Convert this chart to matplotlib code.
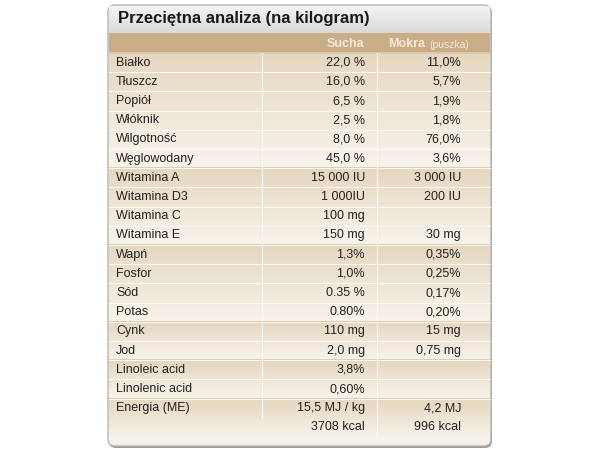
import numpy as np
import matplotlib.pyplot as plt
from matplotlib.patches import FancyBboxPatch, Rectangle
from matplotlib.colors import LinearSegmentedColormap

plt.rcParams['font.family'] = ['Liberation Sans', 'DejaVu Sans']

title = "Przeciętna analiza (na kilogram)"
nazwy = ["Białko", "Tłuszcz", "Popiół", "Włóknik", "Wilgotność", "Węglowodany",
         "Witamina A", "Witamina D3", "Witamina C", "Witamina E",
         "Wapń", "Fosfor", "Sód", "Potas", "Cynk", "Jod",
         "Linoleic acid", "Linolenic acid", "Energia (ME)", ""]
sucha = ["22,0 %", "16,0 %", "6,5 %", "2,5 %", "8,0 %", "45,0 %",
         "15 000 IU", "1 000IU", "100 mg", "150 mg",
         "1,3%", "1,0%", "0.35 %", "0.80%", "110 mg", "2,0 mg",
         "3,8%", "0,60%", "15,5 MJ / kg", "3708 kcal"]
mokra = ["11,0%", "5,7%", "1,9%", "1,8%", "76,0%", "3,6%",
         "3 000 IU", "200 IU", "", "30 mg",
         "0,35%", "0,25%", "0,17%", "0,20%", "15 mg", "0,75 mg",
         "", "", "4,2 MJ", "996 kcal"]
grupy = [(0, 6), (6, 10), (10, 14), (14, 16), (16, 18), (18, 20)]

fig = plt.figure(figsize=(6, 4.49), dpi=100)
ax = fig.add_axes([0, 0, 1, 1])
ax.set_xlim(0, 600)
ax.set_ylim(449, 0)
ax.axis("off")

x0, x1 = 108, 491
y_top, y_bot = 5, 446
# cien i ramka panelu
ax.add_patch(FancyBboxPatch((x0 + 1, y_top + 2), x1 - x0, y_bot - y_top,
                            boxstyle="round,pad=0,rounding_size=7",
                            fc="#9a9a9a", ec="none", zorder=0))
ax.add_patch(FancyBboxPatch((x0, y_top), x1 - x0, y_bot - y_top,
                            boxstyle="round,pad=0,rounding_size=7",
                            fc="#f6f1e8", ec="#b5b5b5", lw=1, zorder=1))

# pasek tytulu (gradient szary)
grad = np.linspace(0, 1, 50).reshape(-1, 1)
ax.imshow(grad, extent=(x0 + 1, x1 - 1, 33, y_top + 1),
          cmap=LinearSegmentedColormap.from_list("t", ["#f4f4f4", "#d9d9d9"]),
          aspect="auto", zorder=2)
ax.text(118, 19, title, fontsize=12, fontweight="bold", va="center", color="#1a1a1a", zorder=5)

# naglowek kolumn
ax.add_patch(Rectangle((x0 + 1, 33), x1 - x0 - 2, 20, fc="#c9ad87", ec="none", zorder=2))
ax.text(364, 44, "Sucha", fontsize=9, fontweight="bold", color="#f5ead8", ha="right", va="center", zorder=5)
ax.text(388, 44, "Mokra", fontsize=9, fontweight="bold", color="#f5ead8", ha="left", va="center", zorder=5)
ax.text(429, 44.5, "(puszka)", fontsize=7.5, color="#f5ead8", ha="left", va="center", zorder=5)

h = 19.2
y_start = 53
cm = LinearSegmentedColormap.from_list("g", ["#e6d7bf", "#f8f4ec"])
for a, b in grupy:
    ya = y_start + a * h
    yb = y_bot - 6 if b == 20 else y_start + b * h
    ax.imshow(grad, extent=(x0 + 1, x1 - 1, yb, ya), cmap=cm, aspect="auto", zorder=2)
    ax.plot([x0 + 1, x1 - 1], [ya, ya], color="#d8c6a6", lw=1.2, zorder=3)

for i, (n, s, m) in enumerate(zip(nazwy, sucha, mokra)):
    yc = y_start + (i + 0.5) * h
    if i < 18:
        ax.plot([x0 + 1, x1 - 1], [y_start + (i + 1) * h] * 2, color="#fbf8f2", lw=0.8, zorder=3)
    ax.text(116, yc, n, fontsize=9, color="#222222", va="center", zorder=5)
    ax.text(365, yc, s, fontsize=9, color="#222222", ha="right", va="center", zorder=5)
    ax.text(461, yc, m, fontsize=9, color="#222222", ha="right", va="center", zorder=5)

ax.plot([262, 262], [53, y_start + 19 * h], color="#fbf8f2", lw=0.8, zorder=3)
ax.plot([377, 377], [53, y_start + 20 * h], color="#fbf8f2", lw=0.8, zorder=3)

fig.savefig("out.png", dpi=100)
